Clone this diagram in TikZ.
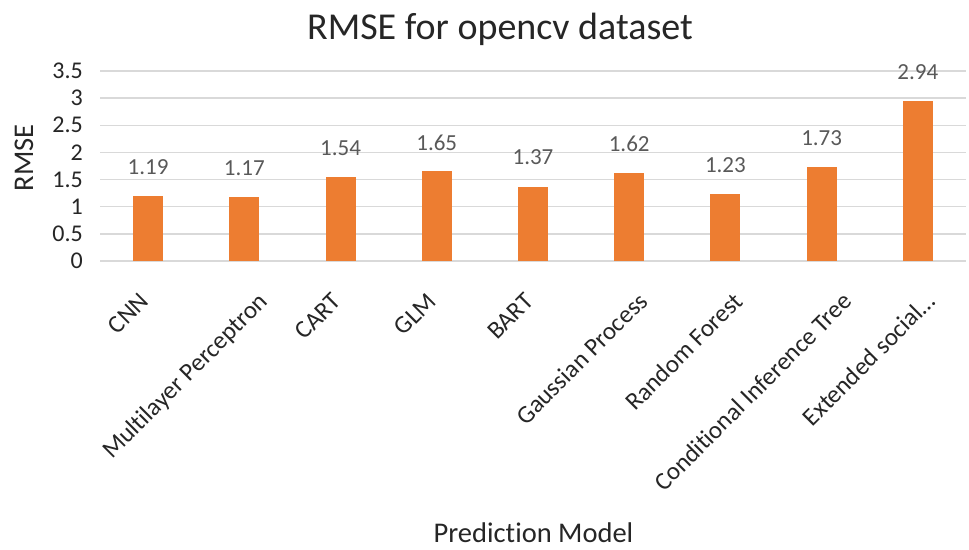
\documentclass[tikz,border=0pt]{standalone}
\usepackage{fontspec}
\setmainfont{Carlito}[Ligatures=NoCommon]
\definecolor{barc}{HTML}{ED7D31}
\definecolor{gridc}{HTML}{D9D9D9}
\definecolor{lblc}{HTML}{595959}
\definecolor{txtc}{HTML}{262626}
\begin{document}
\begin{tikzpicture}[x=1pt,y=-1pt,
  grid/.style={gridc,line width=1.5pt},
  bar/.style={fill=barc,draw=none},
  tick/.style={anchor=east,font=\fontsize{24}{24}\selectfont,text=txtc,inner sep=0pt},
  dlbl/.style={font=\fontsize{23}{23}\selectfont,text=lblc,inner sep=0pt},
  cat/.style={anchor=base east,rotate=45,font=\fontsize{25}{25}\selectfont,text=txtc,inner sep=0pt},
  axt/.style={font=\fontsize{28.5}{28.5}\selectfont,text=txtc,inner sep=0pt}]
\useasboundingbox (0,0) rectangle (969,549);
\fill[white] (0,0) rectangle (969,549);
% gridlines and ticks
\foreach \v/\t in {0/0,0.5/0.5,1/1,1.5/1.5,2/2,2.5/2.5,3/3,3.5/3.5}{
  \draw[grid] (100,{261-54.3*\v}) -- (966,{261-54.3*\v});
  \node[tick] at (83,{261-54.3*\v}) {\t};
}
% bars
\foreach \i/\v/\dx/\name in {0/1.19/2/CNN,1/1.17/25/Multilayer Perceptron,2/1.54/2/CART,3/1.65/1/GLM,4/1.37/2/BART,5/1.62/20/Gaussian Process,6/1.23/19/Random Forest,7/1.73/32/Conditional Inference Tree,8/2.94/19/Extended social\ldots}{
  \pgfmathsetmacro{\cx}{148.1+96.22*\i}
  \fill[bar] ({\cx-15},{261-54.3*\v}) rectangle ({\cx+15},261);
  \node[dlbl] at (\cx,{261-54.3*\v-29}) {\v};
  \node[cat] at ({\cx+\dx},303) {\name};
}
\node[font=\fontsize{38}{38}\selectfont,text=txtc,inner sep=0pt] (title) at (500,29) {RMSE for opencv dataset};
\node[axt,rotate=90] (ylab) at (24,158) {RMSE};
\node[axt] (xlab) at (533.5,533) {Prediction Model};
\end{tikzpicture}
\end{document}
